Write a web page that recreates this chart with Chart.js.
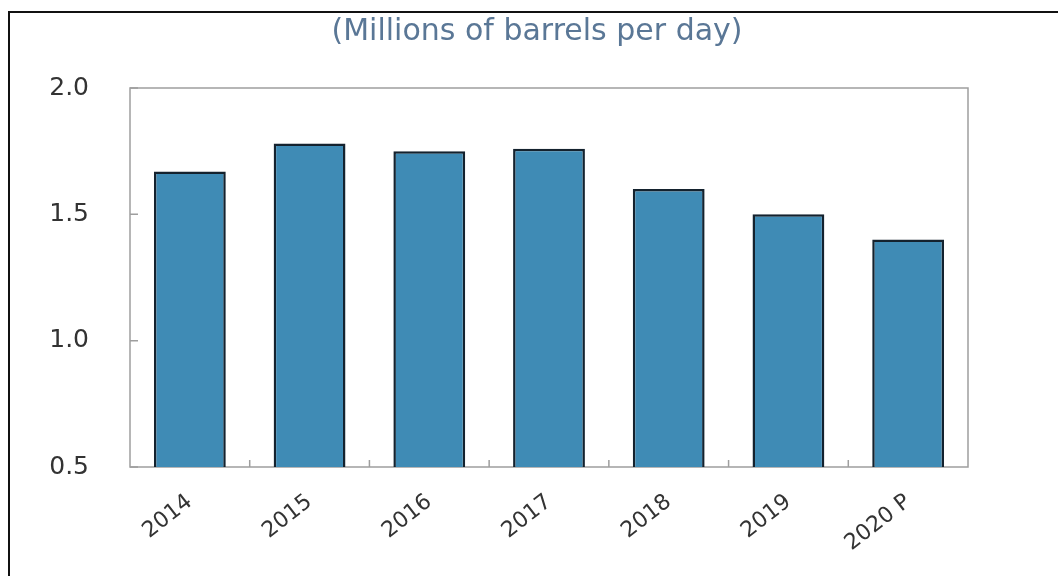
<!DOCTYPE html>
<html>
<head>
<meta charset="utf-8">
<script src="https://cdn.jsdelivr.net/npm/chart.js@4/dist/chart.umd.min.js"></script>
<style>
    body { margin: 0; background: #fff; }
    #wrap { position: relative; width: 1058px; height: 576px; overflow: hidden; }
    #edge { position: absolute; left: 8px; top: 11px; width: 1080px; height: 600px; border: 2px solid #111; }
    #oilChart { position: absolute; left: 0; top: 0; }
</style>
</head>
<body>
<div id="wrap">
    <div id="edge"></div>
    <canvas id="oilChart" width="1058" height="576"></canvas>
</div>
<script>
// Yıllar ve üretim (milyon varil/gün)
const years = ['2014', '2015', '2016', '2017', '2018', '2019', '2020 P'];
const output = [1.67, 1.78, 1.75, 1.76, 1.60, 1.50, 1.40];
const yTicks = [0.5, 1.0, 1.5, 2.0];
const unitText = '(Millions of barrels per day)';

// Çerçeve, içe dönük çentikler ve birim başlığı
const framePlugin = {
    id: 'frame',
    beforeDatasetsDraw(chart) {
        const ctx = chart.ctx;
        const a = chart.chartArea;
        const x = chart.scales.x;
        const y = chart.scales.y;
        ctx.save();
        ctx.strokeStyle = '#9e9e9e';
        ctx.lineWidth = 1.5;
        ctx.strokeRect(a.left, a.top, a.right - a.left, a.bottom - a.top);
        ctx.beginPath();
        yTicks.forEach(v => {
            const py = y.getPixelForValue(v);
            ctx.moveTo(a.left, py);
            ctx.lineTo(a.left + 8, py);
        });
        for (let i = 1; i < years.length; i++) {
            const px = (x.getPixelForValue(i - 1) + x.getPixelForValue(i)) / 2;
            ctx.moveTo(px, a.bottom);
            ctx.lineTo(px, a.bottom - 7);
        }
        ctx.stroke();

        // başlık: grafik alanının biraz solunda ortalanmış
        ctx.fillStyle = '#5a7796';
        ctx.font = '30px "DejaVu Sans"';
        ctx.textAlign = 'center';
        ctx.textBaseline = 'middle';
        ctx.fillText(unitText, (a.left + a.right) / 2 - 12, a.top - 56);
        ctx.restore();
    }
};

new Chart(document.getElementById('oilChart'), {
    type: 'bar',
    data: {
        labels: years,
        datasets: [{
            label: 'Millions of barrels per day',
            data: output,
            backgroundColor: '#3f8bb5',
            borderColor: '#14222e',
            borderWidth: 2.5,
            barPercentage: 0.6,
            categoryPercentage: 1
        }]
    },
    options: {
        responsive: false,
        devicePixelRatio: 1,
        animation: false,
        layout: {
            padding: { top: 88, right: 90, bottom: 0, left: 0 }
        },
        plugins: {
            legend: { display: false },
            tooltip: { enabled: false },
            title: { display: false }
        },
        scales: {
            x: {
                grid: { display: false },
                border: { display: false },
                ticks: {
                    color: '#333',
                    font: { family: 'DejaVu Sans', size: 22 },
                    minRotation: 38,
                    maxRotation: 38,
                    padding: 14
                },
                afterFit(s) { s.height = 109; }
            },
            y: {
                min: 0.5,
                max: 2.0,
                grid: { display: false },
                border: { display: false },
                ticks: {
                    stepSize: 0.5,
                    color: '#333',
                    font: { family: 'DejaVu Sans', size: 25 },
                    padding: 33,
                    callback: v => v.toFixed(1)
                },
                afterFit(s) { s.width = 130; }
            }
        }
    },
    plugins: [framePlugin]
});
</script>
</body>
</html>
